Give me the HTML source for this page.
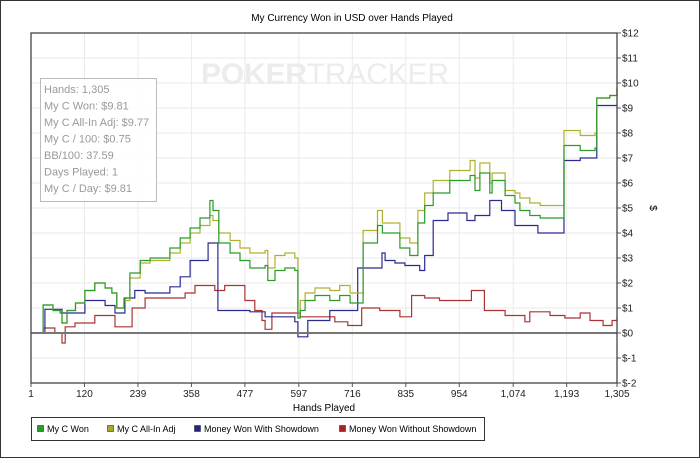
<!DOCTYPE html>
<html><head><meta charset="utf-8"><style>
html,body{margin:0;padding:0;background:#fff}
body{width:700px;height:458px;overflow:hidden;font-family:"Liberation Sans",sans-serif}
svg text{font-family:"Liberation Sans",sans-serif}
</style></head><body>
<svg id="chart" width="700" height="458" viewBox="0 0 700 458" xmlns="http://www.w3.org/2000/svg">
<rect x="0.5" y="0.5" width="699" height="457" fill="#fff" stroke="#333"/>
<text x="352" y="21" font-size="10" text-anchor="middle" fill="#000">My Currency Won in USD over Hands Played</text>
<g id="grid"></g>
<text x="325" y="84" font-size="30" fill="#ececec" text-anchor="middle" textLength="248"><tspan font-weight="bold">POKER</tspan>TRACKER</text>
<g id="series"></g>
<g id="axes"></g>
<g>
<rect x="40.5" y="78.5" width="116" height="123" fill="#fff" fill-opacity="0.85" stroke="#bbb"/>
<g font-size="11" fill="#999">
<text x="44" y="93">Hands: 1,305</text>
<text x="44" y="109.5">My C Won: $9.81</text>
<text x="44" y="126">My C All-In Adj: $9.77</text>
<text x="44" y="142.5">My C / 100: $0.75</text>
<text x="44" y="159">BB/100: 37.59</text>
<text x="44" y="175.5">Days Played: 1</text>
<text x="44" y="192">My C / Day: $9.81</text>
</g></g>
<g>
<rect x="31.5" y="417.5" width="453" height="23" fill="#fff" stroke="#333"/>
<g font-size="9" fill="#000">
<g><rect x="37.5" y="425.5" width="6" height="6" fill="#2a9a2a" stroke="#333" stroke-width="0.6"/><text x="47" y="432">My C Won</text></g>
<g><rect x="107.5" y="425.5" width="6" height="6" fill="#a8a82a" stroke="#333" stroke-width="0.6"/><text x="117" y="432">My C All-In Adj</text></g>
<g><rect x="194.5" y="425.5" width="6" height="6" fill="#22228a" stroke="#333" stroke-width="0.6"/><text x="204" y="432">Money Won With Showdown</text></g>
<g><rect x="339.5" y="425.5" width="6" height="6" fill="#aa2222" stroke="#333" stroke-width="0.6"/><text x="349" y="432">Money Won Without Showdown</text></g>
</g></g>
</svg>
<script>
const xTicks=[1,120,239,358,477,597,716,835,954,1074,1193,1305];
const xTickLabels=["1","120","239","358","477","597","716","835","954","1,074","1,193","1,305"];
const yTicks=[-2,-1,0,1,2,3,4,5,6,7,8,9,10,11,12];
const wonHands=[1,28,50,66,70,81,100,121,143,166,181,192,208,221,244,266,288,310,333,355,377,399,406,419,444,466,488,522,528,544,566,588,595,600,611,633,666,688,711,726,740,772,783,822,844,862,877,896,933,978,989,1000,1022,1027,1056,1078,1089,1111,1134,1187,1223,1256,1260,1289,1305];
const wonValues=[0,1.12,0.9,0.8,0.4,0.9,1.2,1.7,2.0,1.8,1.6,1.0,1.4,2.4,2.9,3.0,3.0,3.4,3.8,4.2,4.6,5.3,4.9,3.6,3.2,2.9,2.6,2.7,2.1,2.5,2.6,2.5,0.6,0.9,1.3,1.5,1.3,1.5,1.2,1.2,3.6,4.3,4.0,3.4,3.1,4.4,5.1,5.6,6.1,6.3,5.7,6.4,5.6,6.1,5.5,5.2,4.9,4.7,4.6,7.5,7.3,7.4,9.4,9.5,9.8];
const allinValues=[0,1.12,0.9,0.8,0.4,0.9,1.2,1.7,2.0,1.8,1.6,1.0,1.3,2.2,2.8,2.9,2.9,3.2,3.6,4.0,4.3,4.7,4.5,4.0,3.7,3.4,3.2,3.3,2.6,3.1,3.2,3.0,0.8,1.3,1.6,1.8,1.7,1.9,1.6,1.6,4.1,4.9,4.4,3.8,3.6,4.9,5.6,6.1,6.5,6.9,6.2,6.8,6.0,6.4,5.7,5.6,5.4,5.2,5.1,8.1,7.9,8.0,9.4,9.5,9.77];
const sdHands=[1,32,70,121,166,188,210,232,255,310,333,355,395,417,488,522,588,595,617,666,728,782,789,811,833,866,877,896,929,971,989,1022,1048,1078,1129,1187,1223,1260,1305];
const sdValues=[0,0.95,0.8,1.3,1.1,0.8,1.4,1.7,1.6,1.85,2.25,2.9,3.6,0.9,0.85,0.65,0.45,-0.15,0.5,0.9,2.6,3.2,2.9,2.8,2.7,2.5,3.1,4.5,4.8,4.5,4.7,5.3,4.9,4.3,4.0,6.9,7.0,9.1,9.1];
const nsdHands=[1,28,54,70,77,99,143,188,226,255,344,366,410,432,477,499,515,522,537,600,677,706,737,777,822,848,877,910,981,1010,1056,1100,1111,1156,1189,1223,1245,1274,1294,1305];
const nsdValues=[0,0.2,0,-0.4,0.25,0.4,0.7,0.25,1.0,1.4,1.6,1.9,1.7,1.9,1.3,0.9,0.5,0.15,0.8,0.65,0.45,0.3,1.0,0.9,0.65,1.5,1.4,1.3,1.7,0.9,0.7,0.45,0.85,0.7,0.6,0.8,0.5,0.3,0.5,0.65];

const L=31,R=617,T=33,B=383,ymin=-2,ymax=12,xmin=1,xmax=1305;
const xs=h=>L+(h-xmin)/(xmax-xmin)*(R-L);
const ys=v=>B-(v-ymin)/(ymax-ymin)*(B-T);
const NS="http://www.w3.org/2000/svg";
function mk(tag,attrs,parent){const e=document.createElementNS(NS,tag);for(const k in attrs)e.setAttribute(k,attrs[k]);parent.appendChild(e);return e;}
const grid=document.getElementById('grid'),axes=document.getElementById('axes'),series=document.getElementById('series');
yTicks.forEach(v=>{const l=mk('line',{x1:L,x2:R,y1:ys(v),y2:ys(v),stroke:'#eaeaea'},grid);


const tk=mk('line',{x1:R,x2:R+4,y1:ys(v),y2:ys(v),stroke:'#555'},axes);


const t=mk('text',{x:R+5,y:ys(v)+3.5,'font-size':'10',fill:'#222'},axes);


t.textContent=(v<0?'$-'+(-v):'$'+v);});
xTicks.forEach((h,i)=>{const l=mk('line',{x1:xs(h),x2:xs(h),y1:T,y2:B,stroke:'#eaeaea'},grid);


const tk=mk('line',{x1:xs(h),x2:xs(h),y1:B,y2:B+4,stroke:'#555'},axes);


const t=mk('text',{x:xs(h),y:B+14,'font-size':'10',fill:'#222','text-anchor':'middle'},axes);


t.textContent=xTickLabels[i];});
const zl=mk('line',{x1:L,x2:R,y1:ys(0),y2:ys(0),stroke:'#777','stroke-width':2},axes);


const fr=mk('rect',{x:L,y:T,width:R-L,height:B-T,fill:'none',stroke:'#444','stroke-width':1.3},axes);


const xt=mk('text',{x:324,y:411,'font-size':'10',fill:'#000','text-anchor':'middle'},axes);


xt.textContent='Hands Played';
const yt=mk('text',{x:650,y:208,'font-size':'10',fill:'#000','text-anchor':'middle',transform:'rotate(90 650 208)'},axes);


yt.textContent='$';
function stepPath(hs,vs){let d='M'+xs(hs[0]).toFixed(1)+','+ys(vs[0]).toFixed(1);
for(let i=1;i<hs.length;i++){d+='H'+xs(hs[i]).toFixed(1)+'V'+ys(vs[i]).toFixed(1);}return d;}
const defs=[[nsdHands,nsdValues,'#aa3333','line-no-showdown'],[sdHands,sdValues,'#2a2a90','line-showdown'],[wonHands,allinValues,'#b0b030','line-allin-adj'],[wonHands,wonValues,'#2a9a2a','line-won']];
defs.forEach(s=>{const p=mk('path',{d:stepPath(s[0],s[1]),fill:'none',stroke:s[2],'stroke-width':1.2},series);

});
</script>
</body></html>
